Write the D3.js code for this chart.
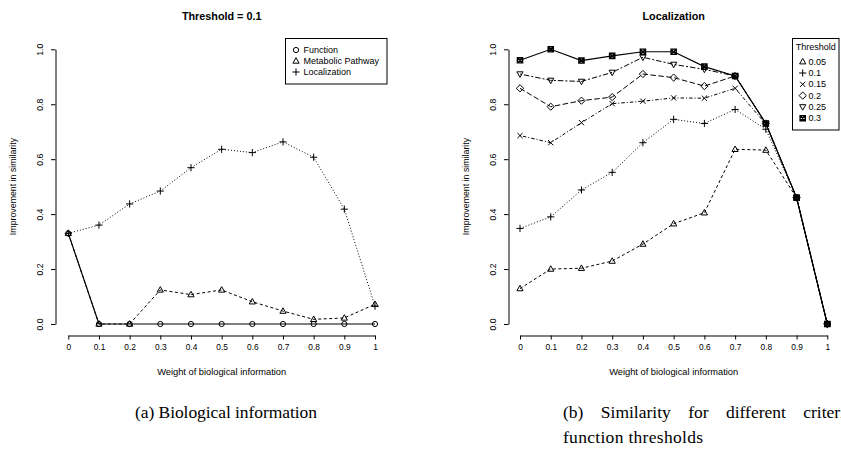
<!DOCTYPE html>
<html>
<head>
<meta charset="utf-8">
<script src="https://cdn.jsdelivr.net/npm/d3@7"></script>
<style>
  body { margin: 0; background: #fff; }
  svg { display: block; }
  text { font-family: "Liberation Sans", Arial, Helvetica, sans-serif; fill: #000; }
  .cap { font-family: "Liberation Serif", "Times New Roman", serif; }
</style>
</head>
<body>
<svg id="chart" width="841" height="457"></svg>
<script>
// ---------- data ----------
const weights = [0, 0.1, 0.2, 0.3, 0.4, 0.5, 0.6, 0.7, 0.8, 0.9, 1.0];
const xTickLabels = ["0", "0.1", "0.2", "0.3", "0.4", "0.5", "0.6", "0.7", "0.8", "0.9", "1"];
const yTicks = [0, 0.2, 0.4, 0.6, 0.8, 1.0];

// Panel (a): Threshold = 0.1
const functionVals   = [0.33, 0, 0, 0, 0, 0, 0, 0, 0, 0, 0];
const metabolicVals  = [0.33, 0, 0, 0.124, 0.107, 0.124, 0.081, 0.047, 0.017, 0.022, 0.072];
const localizVals    = [0.33, 0.36, 0.437, 0.484, 0.569, 0.636, 0.624, 0.663, 0.607, 0.418, 0.065];
const panelANames    = ["Function", "Metabolic Pathway", "Localization"];

// Panel (b): Localization, different thresholds
const thresholds = ["0.05", "0.1", "0.15", "0.2", "0.25", "0.3"];
const t005 = [0.129, 0.2, 0.203, 0.229, 0.291, 0.365, 0.405, 0.636, 0.633, 0.46, 0];
const t010 = [0.348, 0.39, 0.488, 0.552, 0.66, 0.745, 0.73, 0.781, 0.709, 0.46, 0];
const t015 = [0.686, 0.66, 0.733, 0.802, 0.811, 0.823, 0.822, 0.858, 0.728, 0.46, 0];
const t020 = [0.858, 0.791, 0.813, 0.826, 0.91, 0.897, 0.866, 0.903, 0.73, 0.46, 0];
const t025 = [0.91, 0.887, 0.883, 0.916, 0.971, 0.945, 0.927, 0.903, 0.73, 0.46, 0];
const t030 = [0.96, 1.0, 0.959, 0.976, 0.991, 0.991, 0.937, 0.903, 0.73, 0.46, 0];

// ---------- helpers ----------
const svg = d3.select("#chart");
const DASH = {
  solid: null,
  dashed: "3,2.5",
  dotted: "1,2",
  dotdash: "1,2,3.5,2",
  longdash: "5.5,2.5",
  twodash: "2,2,5.5,2"
};

function symbolPath(type) {
  const p = d3.path();
  switch (type) {
    case "circle": p.arc(0, 0, 2.6, 0, 2 * Math.PI); break;
    case "triUp": p.moveTo(0, -3.3); p.lineTo(3.1, 2.2); p.lineTo(-3.1, 2.2); p.closePath(); break;
    case "triDown": p.moveTo(0, 3.3); p.lineTo(3.1, -2.2); p.lineTo(-3.1, -2.2); p.closePath(); break;
    case "plus": p.moveTo(-3.6, 0); p.lineTo(3.6, 0); p.moveTo(0, -3.6); p.lineTo(0, 3.6); break;
    case "cross": p.moveTo(-2.6, -2.6); p.lineTo(2.6, 2.6); p.moveTo(-2.6, 2.6); p.lineTo(2.6, -2.6); break;
    case "diamond": p.moveTo(0, -3.6); p.lineTo(3.6, 0); p.lineTo(0, 3.6); p.lineTo(-3.6, 0); p.closePath(); break;
    case "boxX":
      p.rect(-2.6, -2.6, 5.2, 5.2);
      p.moveTo(-2.6, -2.6); p.lineTo(2.6, 2.6); p.moveTo(-2.6, 2.6); p.lineTo(2.6, -2.6); break;
  }
  return p.toString();
}

function drawSymbol(g, type, x, y) {
  g.append("path")
    .attr("d", symbolPath(type))
    .attr("transform", `translate(${x},${y})`)
    .attr("fill", "none")
    .attr("stroke", "#000")
    .attr("stroke-width", type === "boxX" ? 1.4 : 1);
}

function drawPanel(opts) {
  const g = svg.append("g");
  const x = d3.scaleLinear().domain([0, 1]).range(opts.xRange);
  const y = d3.scaleLinear().domain([0, 1]).range([324, 49.3]);

  // x axis
  const xa = g.append("g")
    .attr("transform", "translate(0,335.5)")
    .call(d3.axisBottom(x).tickValues(weights).tickFormat((d, i) => xTickLabels[i])
      .tickSize(4).tickSizeOuter(0).tickPadding(5));
  xa.selectAll("text").attr("font-size", 8.4).attr("font-family", "Liberation Sans, Arial, sans-serif");
  xa.selectAll("path,line").attr("stroke", "#000");

  // y axis
  const ya = g.append("g")
    .attr("transform", `translate(${opts.yAxisX},0)`)
    .call(d3.axisLeft(y).tickValues(yTicks).tickFormat(d3.format(".1f"))
      .tickSize(4.5).tickSizeOuter(0));
  ya.selectAll("text")
    .attr("font-size", 8.6)
    .attr("font-family", "Liberation Sans, Arial, sans-serif")
    .attr("x", null).attr("dy", "0.35em")
    .attr("text-anchor", "middle")
    .attr("transform", "translate(-15.5,0) rotate(-90)");
  ya.selectAll("path,line").attr("stroke", "#000");

  // titles
  g.append("text").attr("x", (opts.xRange[0] + opts.xRange[1]) / 2).attr("y", 20)
    .attr("text-anchor", "middle").attr("font-size", 10.8).attr("font-weight", "bold")
    .text(opts.title);
  g.append("text").attr("x", (opts.xRange[0] + opts.xRange[1]) / 2).attr("y", 374.5)
    .attr("text-anchor", "middle").attr("font-size", 9.3)
    .text("Weight of biological information");
  g.append("text")
    .attr("transform", `translate(${opts.yAxisX - 40},186.5) rotate(-90)`)
    .attr("text-anchor", "middle").attr("font-size", 8.8)
    .text("Improvement in similarity");

  // series
  const line = d3.line().x((d, i) => x(weights[i])).y(d => y(d));
  opts.series.forEach(s => {
    g.append("path").datum(s.values)
      .attr("d", line)
      .attr("fill", "none")
      .attr("stroke", "#000")
      .attr("stroke-width", s.lty === "solid" ? 1.2 : 1)
      .attr("stroke-dasharray", DASH[s.lty]);
  });
  opts.series.forEach(s => {
    s.values.forEach((v, i) => drawSymbol(g, s.pch, x(weights[i]), y(v)));
  });
  return g;
}

// ---------- panel (a) ----------
const seriesA = [
  { name: panelANames[0], values: functionVals, pch: "circle", lty: "solid" },
  { name: panelANames[1], values: metabolicVals, pch: "triUp", lty: "dashed" },
  { name: panelANames[2], values: localizVals, pch: "plus", lty: "dotted" }
];
drawPanel({ xRange: [68.3, 375], yAxisX: 55.5, title: "Threshold = 0.1", series: seriesA });

// legend (a)
const legA = svg.append("g");
legA.append("rect").attr("x", 285.5).attr("y", 38.5).attr("width", 101.5).attr("height", 45.5)
  .attr("fill", "#fff").attr("stroke", "#000").attr("stroke-width", 1);
seriesA.forEach((s, i) => {
  const yy = 50 + i * 11;
  drawSymbol(legA, s.pch, 296, yy);
  legA.append("text").attr("x", 303.5).attr("y", yy).attr("dy", "0.35em")
    .attr("font-size", 9).text(s.name);
});

// ---------- panel (b) ----------
const seriesB = [
  { name: thresholds[0], values: t005, pch: "triUp", lty: "dashed" },
  { name: thresholds[1], values: t010, pch: "plus", lty: "dotted" },
  { name: thresholds[2], values: t015, pch: "cross", lty: "dotdash" },
  { name: thresholds[3], values: t020, pch: "diamond", lty: "longdash" },
  { name: thresholds[4], values: t025, pch: "triDown", lty: "twodash" },
  { name: thresholds[5], values: t030, pch: "boxX", lty: "solid" }
];
drawPanel({ xRange: [520, 827.3], yAxisX: 508.5, title: "Localization", series: seriesB });

// legend (b)
const legB = svg.append("g");
legB.append("rect").attr("x", 792.5).attr("y", 38.5).attr("width", 46.5).attr("height", 91.5)
  .attr("fill", "#fff").attr("stroke", "#000").attr("stroke-width", 1);
legB.append("text").attr("x", 815.7).attr("y", 46.7).attr("dy", "0.35em")
  .attr("text-anchor", "middle").attr("font-size", 9).text("Threshold");
seriesB.forEach((s, i) => {
  const yy = 61.7 + i * 11.3;
  drawSymbol(legB, s.pch, 802.7, yy);
  legB.append("text").attr("x", 808.5).attr("y", yy).attr("dy", "0.35em")
    .attr("font-size", 9).text(s.name);
});

// ---------- captions ----------
svg.append("text").attr("class", "cap").attr("x", 135).attr("y", 418)
  .attr("font-size", 17.5).attr("textLength", 182).attr("lengthAdjust", "spacing")
  .text("(a) Biological information");
svg.append("text").attr("class", "cap").attr("x", 563).attr("y", 418)
  .attr("font-size", 17.5).attr("word-spacing", 13)
  .text("(b) Similarity for different criteria");
svg.append("text").attr("class", "cap").attr("x", 563).attr("y", 442.5)
  .attr("font-size", 17.5).attr("textLength", 140).attr("lengthAdjust", "spacing")
  .text("function thresholds");
</script>
</body>
</html>
